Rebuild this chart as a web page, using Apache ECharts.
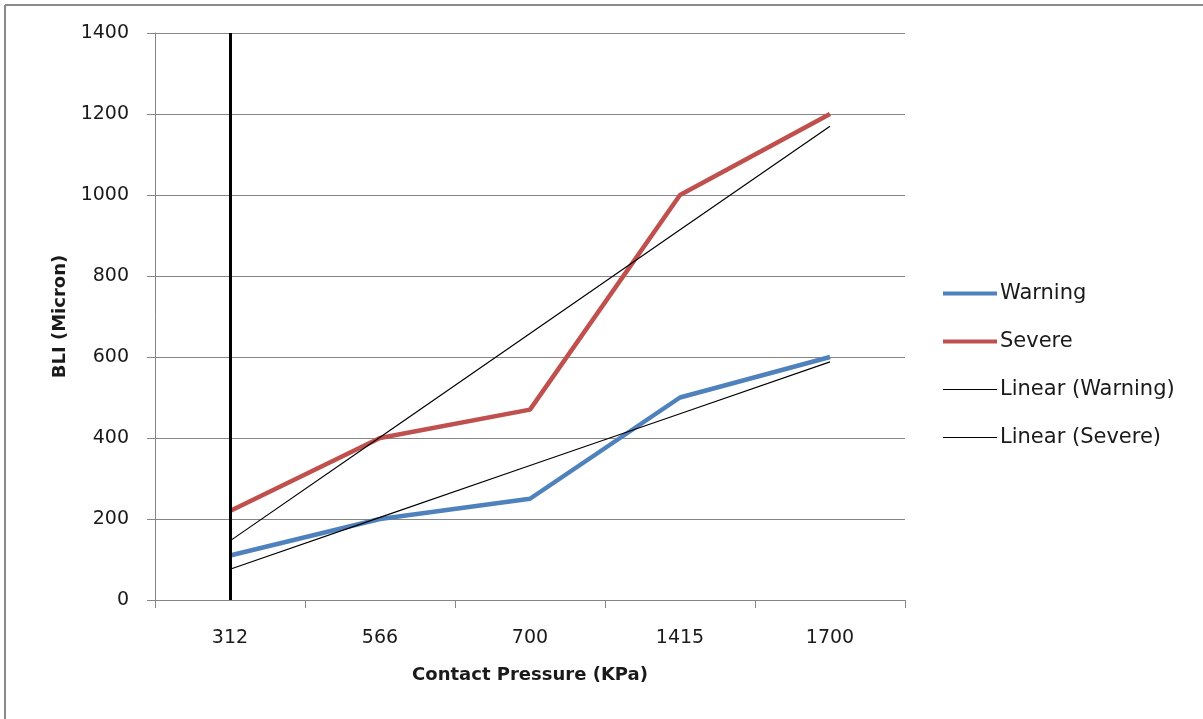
<!DOCTYPE html>
<html>
<head>
<meta charset="utf-8">
<script src="https://cdn.jsdelivr.net/npm/echarts@6/dist/echarts.min.js"></script>
<style>
  html, body { margin: 0; padding: 0; background: #fff; }
  #chart { width: 1203px; height: 719px; }
</style>
</head>
<body>
<div id="chart"></div>
<script>
// Contact pressure categories (KPa) and BLI thresholds (micron)
const categories = ['312', '566', '700', '1415', '1700'];
const warning = [110, 200, 250, 500, 600];
const severe = [220, 400, 470, 1000, 1200];
const yTicks = { min: 0, max: 1400, interval: 200 };

// Least-squares trend over the category index, as a spreadsheet linear trendline does
function linearTrend(values) {
  const n = values.length;
  const xs = values.map((_, i) => i + 1);
  const mx = xs.reduce((a, b) => a + b, 0) / n;
  const my = values.reduce((a, b) => a + b, 0) / n;
  let sxy = 0, sxx = 0;
  for (let i = 0; i < n; i++) {
    sxy += (xs[i] - mx) * (values[i] - my);
    sxx += (xs[i] - mx) * (xs[i] - mx);
  }
  const slope = sxy / sxx;
  const icpt = my - slope * mx;
  return xs.map(x => icpt + slope * x);
}

const font = 'DejaVu Sans';
const axisGrey = '#868686';
const textColor = '#1a1a1a';
const thickIcon = 'path://M0,0H54V4H0Z';
const thinIcon = 'path://M0,0H54V1H0Z';

const chart = echarts.init(document.getElementById('chart'), null, { renderer: 'canvas' });
chart.setOption({
  animation: false,
  backgroundColor: '#fff',
  graphic: [
    { type: 'line', shape: { x1: 5, y1: 5, x2: 1203, y2: 5 }, style: { stroke: '#8a8a8a', lineWidth: 2 } },
    { type: 'line', shape: { x1: 5, y1: 5, x2: 5, y2: 719 }, style: { stroke: '#8a8a8a', lineWidth: 2 } }
  ],
  grid: { left: 155, right: 298, top: 33, bottom: 119, containLabel: false },
  legend: {
    orient: 'vertical',
    left: 938,
    top: 278,
    itemWidth: 54,
    itemHeight: 14,
    itemGap: 27,
    symbolKeepAspect: true,
    textStyle: { fontFamily: font, fontSize: 21, lineHeight: 21, color: textColor, padding: [0, 0, 0, -2] },
    data: [
      { name: 'Warning', icon: thickIcon },
      { name: 'Severe', icon: thickIcon },
      { name: 'Linear (Warning)', icon: thinIcon },
      { name: 'Linear (Severe)', icon: thinIcon }
    ]
  },
  xAxis: {
    type: 'category',
    data: categories,
    boundaryGap: true,
    name: 'Contact Pressure (KPa)',
    nameLocation: 'middle',
    nameGap: 66,
    nameTextStyle: { fontFamily: font, fontSize: 18, fontWeight: 'bold', color: textColor },
    axisLine: { lineStyle: { color: axisGrey, width: 1 } },
    axisTick: { show: true, length: 8, inside: false, lineStyle: { color: axisGrey } },
    axisLabel: { fontFamily: font, fontSize: 19, color: textColor, margin: 29 },
    splitLine: { show: false }
  },
  yAxis: {
    type: 'value',
    min: yTicks.min,
    max: yTicks.max,
    interval: yTicks.interval,
    name: 'BLI (Micron)',
    nameLocation: 'middle',
    nameGap: 82,
    nameRotate: 90,
    nameTextStyle: { fontFamily: font, fontSize: 18, fontWeight: 'bold', color: textColor },
    axisLine: { show: true, lineStyle: { color: axisGrey, width: 1 } },
    axisTick: { show: true, length: 8, lineStyle: { color: axisGrey } },
    axisLabel: { fontFamily: font, fontSize: 19, color: textColor, margin: 26, formatter: v => String(v) },
    splitLine: { show: true, lineStyle: { color: axisGrey, width: 1 } }
  },
  series: [
    {
      name: 'Warning',
      type: 'line',
      data: warning,
      symbol: 'none',
      color: '#4F81BD',
      lineStyle: { width: 4.5, color: '#4F81BD' },
      z: 3,
      markLine: {
        silent: true,
        symbol: 'none',
        label: { show: false },
        lineStyle: { color: '#000', width: 3, type: 'solid' },
        data: [{ xAxis: categories[0] }]
      }
    },
    {
      name: 'Severe',
      type: 'line',
      data: severe,
      symbol: 'none',
      color: '#C0504D',
      lineStyle: { width: 4.5, color: '#C0504D' },
      z: 3
    },
    {
      name: 'Linear (Warning)',
      type: 'line',
      data: linearTrend(warning),
      symbol: 'none',
      color: '#000',
      lineStyle: { width: 1.2, color: '#000' },
      z: 4
    },
    {
      name: 'Linear (Severe)',
      type: 'line',
      data: linearTrend(severe),
      symbol: 'none',
      color: '#000',
      lineStyle: { width: 1.2, color: '#000' },
      z: 4
    }
  ]
});
</script>
</body>
</html>
